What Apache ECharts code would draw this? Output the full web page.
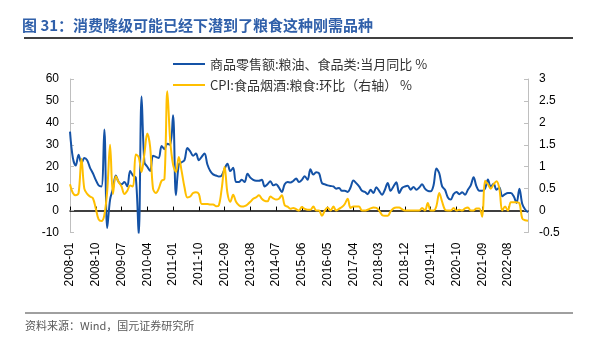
<!DOCTYPE html>
<html><head><meta charset="utf-8">
<script src="https://cdn.jsdelivr.net/npm/echarts/dist/echarts.min.js"></script>
<style>html,body{margin:0;padding:0;background:#fff}#c{width:596px;height:343px}</style>
</head><body><div id="c"></div>
<script>
// Category rule: all months 2008-2011; from 2012 the Jan/Feb months are absent (Mar-Dec); ends 2023-05
const categories = [];
for (let y = 2008; y <= 2023; y++) {
  const startM = y >= 2012 ? 3 : 1;
  const endM = y === 2023 ? 5 : 12;
  for (let m = startM; m <= endM; m++) categories.push(y + '-' + (m < 10 ? '0' + m : m));
}

const retailYoY = [
  36,24,20.5,25.5,21.5,24,23,19.5,17,14,11.5,11,37,-8,5,10,16,13,12,13,
  11,18,16,15,-11,52,22,20,18,25,24.5,24,29.5,28,30.5,30,43.5,7,21,22,
  23,28.5,27,25,26,23,24.5,26,21,18,16.5,16,15.5,16,19,21.4,18,19.5,13,13,
  14,13,16.8,15,14,13.6,13.6,14,11,12,13.4,11.5,12,10.5,8.5,12,13,12.8,13.5,14.6,
  13,14,15.7,14,18.8,16.4,17.5,17,12.6,12,11.5,11.2,11,10,10.3,9,9,8.5,10.5,13.7,
  12.5,11,9,8.5,7.5,9.5,8,10.6,9,7.2,9.5,12.6,9,11,12.9,8,10.3,11,11.3,9.5,
  10.8,9.5,10.5,12,10,9,8.8,11.5,19.2,17,11,9.5,6,5,7.5,8.5,7.5,8.3,7.2,9.5,
  11.5,15.2,11,9,9,10,14.2,10.8,12.2,9.5,10.5,6.5,7.5,8,8,6.5,3.5,10,3,0.5,
  -0.8
];

const cpiGrainMoM = [
  0.6,0.4,0.35,0.4,1.18,0.5,0.38,0.32,0.28,0.05,-0.2,-0.24,-0.1,0.45,1.5,0.38,0.78,0.65,0.55,0.38,
  0.45,0.57,0.55,1.28,1.22,0.88,1.3,1.76,1.45,0.5,0.4,0.5,0.68,0.72,2.72,1.6,1.05,0.88,1.22,0.9,
  0.53,0.3,0.32,0.4,0.42,0.38,0.15,0.15,0.15,0.14,0.14,0.1,0.12,0.5,1.0,0.4,0.2,0.36,0.2,0.12,
  0.09,0.1,0.14,0.2,0.27,0.3,0.35,0.27,0.22,0.21,0.32,0.28,0.25,0.27,0.35,0.12,0.09,0.04,0.06,0.03,
  0,0.08,0.04,0.02,0.02,0.09,0,0,-0.12,0,0.07,0,0.09,0,0.04,0.08,0.15,0.27,0.06,0.09,
  0.09,0.09,0,0,0.02,0.05,0.07,0.06,0,-0.1,-0.12,-0.12,-0.02,0.05,0.07,0.07,0.03,0,0,0,
  0,0,0,0.06,0,0.17,0,0,0.1,0.4,0.2,0.02,0,0,0.06,0,0.02,0,0.05,0.07,
  0,0,0.05,0.05,-0.14,0.68,0.6,0.5,0.6,0.67,0.5,0,0.09,0,0.19,0.19,0.19,0.17,-0.18,-0.22,
  -0.23
];

const seriesNames = ['商品零售额:粮油、食品类:当月同比 %', 'CPI:食品烟酒:粮食:环比（右轴） %'];
const titleText = '图 31：消费降级可能已经下潜到了粮食这种刚需品种';
const sourceText = '资料来源：Wind，国元证券研究所';

const chart = echarts.init(document.getElementById('c'), null, {renderer: 'canvas'});
const axisFont = {fontFamily: 'Liberation Sans', fontSize: 12, color: '#000'};
chart.setOption({
  animation: false,
  backgroundColor: '#fff',
  grid: {left: 70, right: 68, top: 79, bottom: 110.5, containLabel: false},
  legend: {
    orient: 'vertical', left: 168, top: 52, itemWidth: 32, itemHeight: 2, itemGap: 7,
    icon: 'rect',
    textStyle: {fontFamily: 'Noto Sans CJK SC', fontSize: 13, color: '#333', lineHeight: 14, padding: [0, 0, 0, 0]},
    data: seriesNames
  },
  xAxis: [{
    type: 'category', data: categories, boundaryGap: false, position: 'bottom',
    axisLine: {show: false, onZero: false},
    axisTick: {show: false},
    axisLabel: Object.assign({rotate: 90, interval: 8, margin: 10}, axisFont),
    splitLine: {show: false}
  }, {
    type: 'category', data: categories, boundaryGap: false, position: 'bottom',
    axisLine: {show: true, onZero: true, onZeroAxisIndex: 0, lineStyle: {color: '#000', width: 1.5}},
    axisTick: {show: true, inside: true, interval: 8, length: 4, lineStyle: {color: '#000', width: 1}},
    axisLabel: {show: false},
    splitLine: {show: false}
  }],
  yAxis: [{
    type: 'value', min: -10, max: 60, interval: 10, position: 'left',
    axisLine: {show: true, lineStyle: {color: '#bfbfbf', width: 1}},
    axisTick: {show: true, inside: true, length: 4, lineStyle: {color: '#bfbfbf'}},
    axisLabel: Object.assign({margin: 11}, axisFont),
    splitLine: {show: false}
  }, {
    type: 'value', min: -0.5, max: 3, interval: 0.5, position: 'right',
    axisLine: {show: true, lineStyle: {color: '#bfbfbf', width: 1}},
    axisTick: {show: true, inside: true, length: 4, lineStyle: {color: '#bfbfbf'}},
    axisLabel: Object.assign({margin: 11}, axisFont),
    splitLine: {show: false}
  }],
  series: [{
    name: seriesNames[0], type: 'line', xAxisIndex: 0, yAxisIndex: 0, data: retailYoY,
    showSymbol: false, smooth: 0.35, lineStyle: {color: '#1452a6', width: 2}, itemStyle: {color: '#1452a6'}
  }, {
    name: seriesNames[1], type: 'line', xAxisIndex: 0, yAxisIndex: 1, data: cpiGrainMoM,
    showSymbol: false, smooth: 0.35, lineStyle: {color: '#ffbf00', width: 2}, itemStyle: {color: '#ffbf00'}
  }],
  graphic: [
    {type: 'text', left: 22, top: 18, style: {text: titleText, font: 'bold 15px "Noto Sans CJK SC"', fill: '#3060aa'}},
    {type: 'line', shape: {x1: 24, y1: 38, x2: 573, y2: 38}, style: {stroke: '#000', lineWidth: 1.5}},
    {type: 'line', shape: {x1: 25, y1: 313, x2: 573, y2: 313}, style: {stroke: '#404040', lineWidth: 1}},
    {type: 'text', left: 25, top: 320, style: {text: sourceText, font: '11px "Noto Sans CJK SC"', fill: '#595959'}}
  ]
});
</script></body></html>
